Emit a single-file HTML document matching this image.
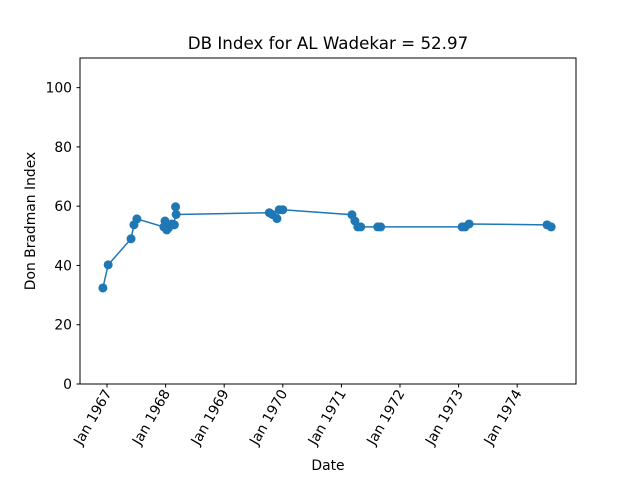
<!DOCTYPE html>
<html><head><meta charset="utf-8"><style>
body{margin:0;background:#fff;font-family:"Liberation Sans","DejaVu Sans",sans-serif}
svg text{font-family:"DejaVu Sans","Liberation Sans",sans-serif;fill:#000}
</style></head><body>
<svg id="c" width="640" height="480">
<rect x="0" y="0" width="640" height="480" fill="#fff"/>
<text x="328" y="49" font-size="16.7" text-anchor="middle">DB Index for AL Wadekar = 52.97</text>
<rect x="80" y="58" width="496" height="326" fill="none" stroke="#000" stroke-width="1"/>
<g id="ax"></g><g id="marks"></g>
<text x="328" y="470" font-size="13.9" text-anchor="middle">Date</text>
<text transform="translate(35,221) rotate(-90)" font-size="13.9" text-anchor="middle">Don Bradman Index</text>
</svg>
<script>
const dates=[1966.93,1967.02,1967.41,1967.46,1967.51,1967.97,1967.99,1968.02,1968.05,1968.11,1968.15,1968.17,1968.18,1969.77,1969.82,1969.90,1969.94,1970.00,1971.18,1971.23,1971.28,1971.33,1971.62,1971.67,1973.06,1973.11,1973.18,1974.51,1974.58];
const values=[32.4,40.2,49,53.7,55.7,53,55,52,52.7,54,53.7,59.8,57.2,57.8,57.2,55.8,58.8,58.8,57.1,55,53,53,53,53,53,53,54,53.7,53];
const yTicks=[0,20,40,60,80,100];
const xTickYears=[1967,1968,1969,1970,1971,1972,1973,1974];
const xTickLabels=["Jan 1967","Jan 1968","Jan 1969","Jan 1970","Jan 1971","Jan 1972","Jan 1973","Jan 1974"];
const NS="http://www.w3.org/2000/svg";
const xS=d=>107+(d-1967)*58.6;
const yS=v=>384-(v/110)*326;
const ax=document.getElementById('ax'),mk=document.getElementById('marks');
function el(t,a,p){const e=document.createElementNS(NS,t);for(const k in a)e.setAttribute(k,a[k]);p.appendChild(e);return e;}
yTicks.forEach(v=>{const y=yS(v);
 const l=el('line',{x1:76.5,x2:80,y1:y,y2:y,stroke:'#000'},ax);
 
 
 const t=el('text',{x:72,y:y+5,'font-size':13.9,'text-anchor':'end'},ax);t.textContent=v;
 
 });
xTickYears.forEach((d,i)=>{const x=xS(d);
 const l=el('line',{x1:x,x2:x,y1:384,y2:387.5,stroke:'#000'},ax);
 
 
 const t=el('text',{x:0,y:0,'font-size':13.9,'text-anchor':'end',transform:`translate(${x+5},${393}) rotate(-60)`},ax);t.textContent=xTickLabels[i];
 
 });
const pts=dates.map((d,i)=>xS(d)+','+yS(values[i])).join(' ');
const pl=el('polyline',{points:pts,fill:'none',stroke:'#1f77b4','stroke-width':1.5},mk);


dates.forEach((d,i)=>{const c=el('circle',{cx:xS(d),cy:yS(values[i]),r:4.5,fill:'#1f77b4'},mk);
 
 });
</script>
</body></html>
